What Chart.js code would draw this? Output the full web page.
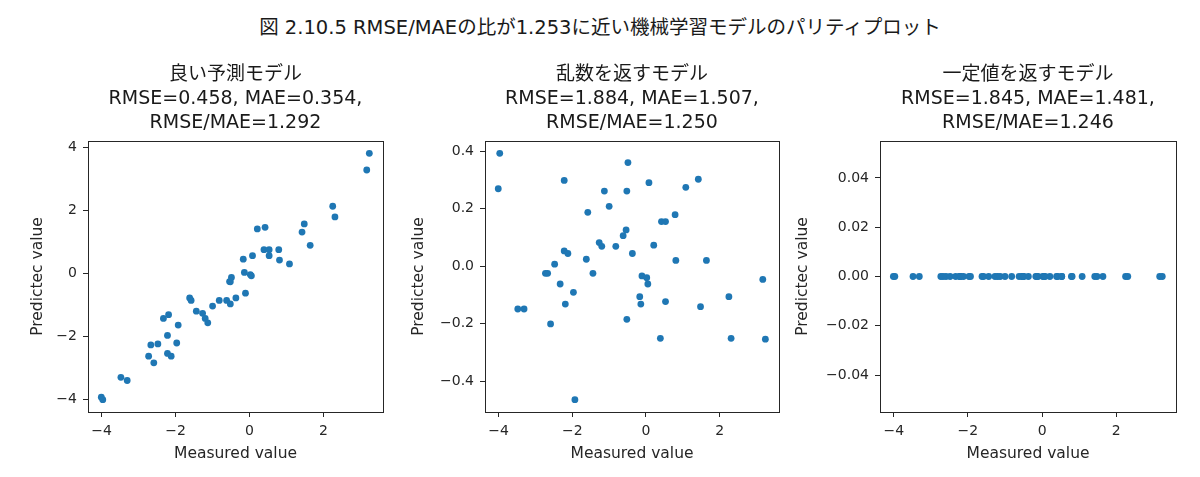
<!DOCTYPE html>
<html>
<head>
<meta charset="utf-8">
<script src="https://cdn.jsdelivr.net/npm/chart.js@4"></script>
<style>
  body { margin: 0; background: #fff; overflow: hidden; }
  #wrap { position: relative; width: 1200px; height: 477px; overflow: hidden; }
  #fig-title {
    position: absolute; left: 0; top: 16px; width: 1200px; text-align: center;
    font-family: 'DejaVu Sans', 'Noto Sans CJK JP', sans-serif;
    font-size: 19.5px; line-height: 24px; color: #1a1a1a;
  }
  .panel { position: absolute; top: 0; height: 477px; }
</style>
</head>
<body>
<div id="wrap">
  <div id="fig-title">図 2.10.5 RMSE/MAEの比が1.253に近い機械学習モデルのパリティプロット</div>
  <!-- canvases are symmetric around their plot area so the titles centre over it -->
  <div class="panel" style="left:0px;width:471px"><canvas id="c1" width="471" height="477"></canvas></div>
  <div class="panel" style="left:400px;width:464px"><canvas id="c2" width="464" height="477"></canvas></div>
  <div class="panel" style="left:790px;width:476px"><canvas id="c3" width="476" height="477"></canvas></div>
</div>
<script>
// measured values (same for all three models)
const measured = [-4.01, -3.97, -3.48, -3.31, -2.73, -2.67, -2.59, -2.48, -2.33, -2.22,
                  -2.22, -2.19, -2.12, -1.97, -1.93, -1.62, -1.58, -1.44, -1.27, -1.20,
                  -1.13, -1.00, -0.82, -0.62, -0.54, -0.52, -0.52, -0.49, -0.37, -0.17,
                  -0.14, -0.11, 0.02, 0.05, 0.08, 0.21, 0.39, 0.42, 0.53, 0.53,
                  0.79, 0.81, 1.08, 1.42, 1.48, 1.64, 2.25, 2.31, 3.17, 3.24];

// predictions of each model
const predGood = [-3.93, -4.01, -3.30, -3.40, -2.63, -2.27, -2.84, -2.24, -1.43, -1.97,
                  -2.54, -1.31, -2.63, -2.21, -1.64, -0.78, -0.86, -1.20, -1.27, -1.43,
                  -1.57, -1.04, -0.86, -0.86, -0.26, -0.27, -0.97, -0.13, -0.78, 0.45,
                  0.03, -0.63, -0.04, -0.08, 0.56, 1.41, 0.75, 1.46, 0.75, 0.56,
                  0.75, 0.42, 0.30, 1.31, 1.57, 0.89, 2.13, 1.79, 3.28, 3.81];

const predRandom = [0.269, 0.392, -0.149, -0.149, -0.025, -0.025, -0.201, 0.007, -0.062, 0.298,
                    0.053, -0.132, 0.044, -0.091, -0.464, 0.024, 0.187, -0.025, 0.082, 0.069,
                    0.261, 0.208, 0.069, 0.106, 0.126, 0.261, -0.185, 0.360, 0.044, -0.106,
                    -0.132, -0.034, -0.040, -0.062, 0.290, 0.073, -0.251, 0.155, 0.155, -0.123,
                    0.179, 0.020, 0.274, 0.302, -0.141, 0.020, -0.106, -0.251, -0.046, -0.254];

const predConst = [0, 0, 0, 0, 0, 0, 0, 0, 0, 0,
                   0, 0, 0, 0, 0, 0, 0, 0, 0, 0,
                   0, 0, 0, 0, 0, 0, 0, 0, 0, 0,
                   0, 0, 0, 0, 0, 0, 0, 0, 0, 0,
                   0, 0, 0, 0, 0, 0, 0, 0, 0, 0];

const panelTitles = [
    ['良い予測モデル', 'RMSE=0.458, MAE=0.354,', 'RMSE/MAE=1.292'],
    ['乱数を返すモデル', 'RMSE=1.884, MAE=1.507,', 'RMSE/MAE=1.250'],
    ['一定値を返すモデル', 'RMSE=1.845, MAE=1.481,', 'RMSE/MAE=1.246']
];

const FONT = "'DejaVu Sans', 'Noto Sans CJK JP', sans-serif";
const INK = '#262626';
const DOT = '#1f77b4';

// minus sign like matplotlib
function fmt(decimals) {
    return function (v) {
        if (Math.abs(v) < 1e-9) v = 0;
        return (v < 0 ? '\u2212' : '') + Math.abs(v).toFixed(decimals);
    };
}

// draw the full axes box on top of the points
const boxPlugin = {
    id: 'box',
    afterDraw(chart) {
        const a = chart.chartArea;
        const ctx = chart.ctx;
        ctx.save();
        ctx.strokeStyle = INK;
        ctx.lineWidth = 1;
        ctx.strokeRect(Math.round(a.left) + 0.5, Math.round(a.top) + 0.5,
                       Math.round(a.right - a.left), Math.round(a.bottom - a.top));
        ctx.restore();
    }
};

function makePanel(id, preds, title, cfg) {
    const pts = measured.map((x, i) => ({ x: x, y: preds[i] }));
    return new Chart(document.getElementById(id), {
        type: 'scatter',
        data: {
            datasets: [{
                data: pts,
                backgroundColor: DOT,
                borderWidth: 0,
                pointRadius: 3.4,
                pointHoverRadius: 3.4
            }]
        },
        options: {
            responsive: false,
            animation: false,
            layout: { padding: 0 },
            plugins: {
                legend: { display: false },
                tooltip: { enabled: false },
                title: {
                    display: true,
                    text: title,
                    color: '#1a1a1a',
                    font: { family: FONT, size: 19, weight: 'normal', lineHeight: 24 / 19 },
                    padding: { top: 63, bottom: 6 }
                }
            },
            scales: {
                x: {
                    type: 'linear',
                    min: -4.37, max: 3.61,
                    afterFit(s) { s.height = 65; },
                    border: { display: false },
                    grid: { drawOnChartArea: false, drawTicks: true, tickLength: 5, color: INK },
                    ticks: { stepSize: 2, includeBounds: false, padding: 6, color: INK,
                             font: { family: FONT, size: 14 }, callback: fmt(0), maxRotation: 0 },
                    title: { display: true, text: 'Measured value', color: INK,
                             font: { family: FONT, size: 15.5 }, padding: { top: 0, bottom: 13.5 } }
                },
                y: {
                    type: 'linear',
                    min: cfg.yMin, max: cfg.yMax,
                    afterFit(s) { s.width = cfg.yWidth; },
                    border: { display: false },
                    grid: { drawOnChartArea: false, drawTicks: true, tickLength: 5, color: INK },
                    ticks: { stepSize: cfg.yStep, includeBounds: false, padding: 6, color: INK,
                             font: { family: FONT, size: 14 }, callback: fmt(cfg.yDec) },
                    title: { display: true, text: 'Predictec value', color: INK,
                             font: { family: FONT, size: 15.5 }, padding: { top: cfg.yTitlePad, bottom: 0 } }
                },
                // empty spacer on the right, keeps the plot area centred under the title
                spacer: {
                    type: 'linear',
                    position: 'right',
                    min: 0, max: 1,
                    afterFit(s) { s.width = cfg.yWidth; },
                    border: { display: false },
                    grid: { display: false },
                    ticks: { display: false }
                }
            }
        },
        plugins: [boxPlugin]
    });
}

makePanel('c1', predGood, panelTitles[0],
    { yMin: -4.40, yMax: 4.20, yStep: 2, yDec: 0, yWidth: 88, yTitlePad: 28.7 });
makePanel('c2', predRandom, panelTitles[1],
    { yMin: -0.507, yMax: 0.435, yStep: 0.2, yDec: 1, yWidth: 85, yTitlePad: 9.7 });
makePanel('c3', predConst, panelTitles[2],
    { yMin: -0.055, yMax: 0.055, yStep: 0.02, yDec: 2, yWidth: 90, yTitlePad: 3.7 });
</script>
</body>
</html>
